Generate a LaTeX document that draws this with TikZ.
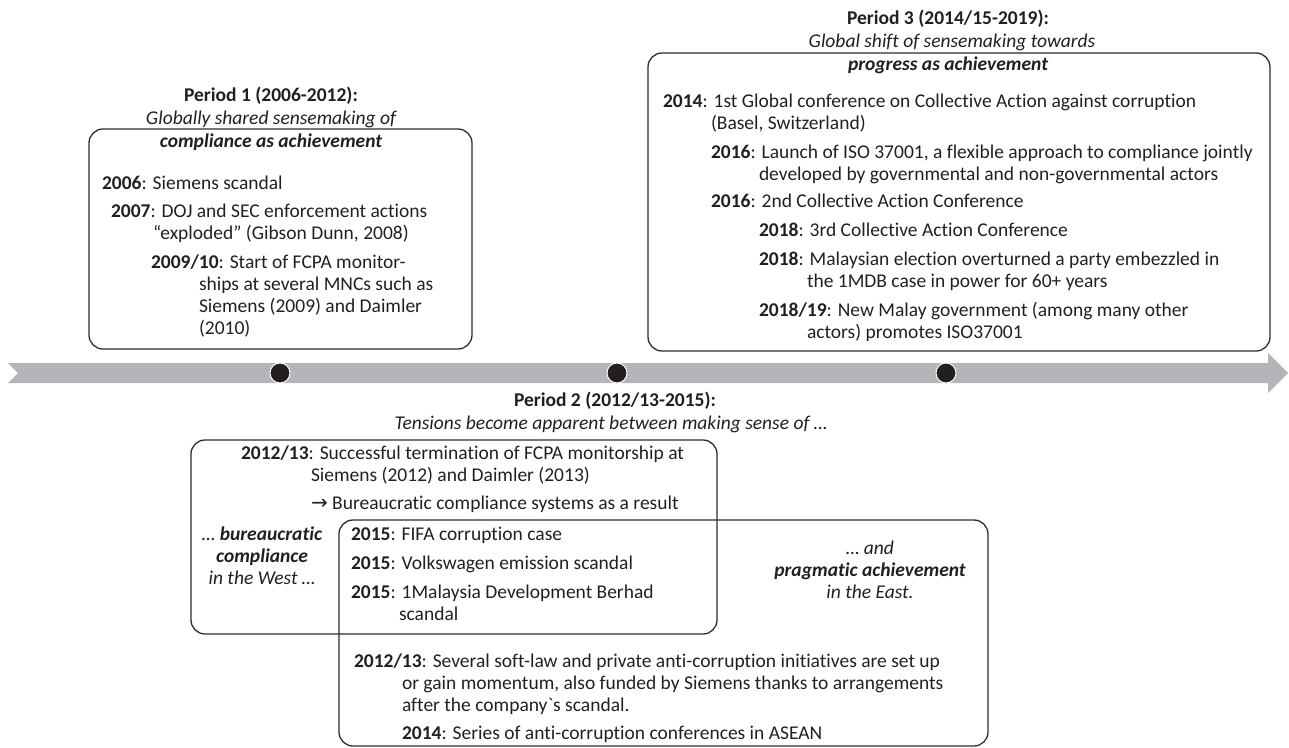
\documentclass[tikz,border=0pt]{standalone}
\usepackage{fontspec}
\setmainfont{Carlito}[Ligatures={TeX,CommonOff}]
\newfontfamily\dejavu{DejaVu Sans}
\definecolor{ink}{RGB}{35,31,32}
\definecolor{band}{RGB}{180,181,184}
\definecolor{frame}{RGB}{45,45,45}
\newcommand\fs{\fontsize{19.5}{22}\selectfont}
\newcommand\yr[1]{\textbf{#1}:}
\newcommand\grv{{\addfontfeatures{Ligatures=TeXOff}`}}
\begin{document}
\begin{tikzpicture}[x=1pt,y=-1pt,
  txt/.style={anchor=base west, inner sep=0pt, outer sep=0pt, text=ink, font=\fs},
  ctr/.style={txt, anchor=base},
  box/.style={draw=frame, line width=1.3pt, rounded corners=14pt},
  dot/.style={circle, fill=ink, draw=white, line width=1pt, minimum size=20pt, inner sep=0pt}]
\useasboundingbox (0,0) rectangle (1289,747);

% timeline arrow
\fill[band] (8,363) -- (1268,363) -- (1268,353) -- (1288,373) -- (1268,393) -- (1268,383) -- (8,383) -- (18,373) -- cycle;
\node[dot] (d1) at (280,373) {};
\node[dot] (d2) at (617,373) {};
\node[dot] (d3) at (946,373) {};

% boxes
\draw[box] (89,129) rectangle (472,349);
\draw[box] (648,53) rectangle (1270,351);
\draw[box] (191,440) rectangle (717,634);
\draw[box] (339,520) rectangle (988,746);

% Period 1
\node[ctr, font=\fs\bfseries] (p1t) at (271,101) {Period 1 (2006-2012):};
\node[ctr, font=\fs\itshape] (p1s) at (271,124) {Globally shared sensemaking of};
\node[ctr, font=\fs\bfseries\itshape] (p1c) at (271,147) {compliance as achievement};
\node[txt] (p1e1) at (102,189) {\yr{2006} Siemens scandal};
\node[txt] (p1e2) at (111,217) {\begin{tabular}[t]{@{}l@{}}\yr{2007} DOJ and SEC enforcement actions\\\hspace*{42pt}“exploded” (Gibson Dunn, 2008)\end{tabular}};
\node[txt] (p1e3) at (151,268) {\begin{tabular}[t]{@{}l@{}}\yr{2009/10} Start of FCPA monitor-\\\hspace*{48pt}ships at several MNCs such as\\\hspace*{48pt}Siemens (2009) and Daimler\\\hspace*{48pt}(2010)\end{tabular}};

% Period 3
\node[ctr, font=\fs\bfseries] (p3t) at (948,24) {Period 3 (2014/15-2019):};
\node[ctr, font=\fs\itshape] (p3s) at (952,47) {Global shift of sensemaking towards};
\node[ctr, font=\fs\bfseries\itshape] (p3c) at (948,70) {progress as achievement};
\node[txt] (p3e1) at (663,107) {\begin{tabular}[t]{@{}l@{}}\yr{2014} 1st Global conference on Collective Action against corruption\\\hspace*{48pt}(Basel, Switzerland)\end{tabular}};
\node[txt] (p3e2) at (711,158) {\begin{tabular}[t]{@{}l@{}}\yr{2016} Launch of ISO 37001, a flexible approach to compliance jointly\\\hspace*{48pt}developed by governmental and non-governmental actors\end{tabular}};
\node[txt] (p3e3) at (711,207) {\yr{2016} 2nd Collective Action Conference};
\node[txt] (p3e4) at (759,236) {\yr{2018} 3rd Collective Action Conference};
\node[txt] (p3e5) at (759,265) {\begin{tabular}[t]{@{}l@{}}\yr{2018} Malaysian election overturned a party embezzled in\\\hspace*{48pt}the 1MDB case in power for 60+ years\end{tabular}};
\node[txt] (p3e6) at (759,316) {\begin{tabular}[t]{@{}l@{}}\yr{2018/19} New Malay government (among many other\\\hspace*{48pt}actors) promotes ISO37001\end{tabular}};

% Period 2
\node[ctr, font=\fs\bfseries] (p2t) at (615,406) {Period 2 (2012/13-2015):};
\node[ctr, font=\fs\itshape] (p2s) at (611,429) {Tensions become apparent between making sense of …};
\node[txt] (p2e1) at (241,459) {\begin{tabular}[t]{@{}l@{}}\yr{2012/13} Successful termination of FCPA monitorship at\\\hspace*{70pt}Siemens (2012) and Daimler (2013)\end{tabular}};
\node[txt] (p2e2) at (311,509) {{\dejavu\fontsize{20}{22}\selectfont →} Bureaucratic compliance systems as a result};
\node[ctr, font=\fs\itshape] (w1) at (262,540) {… \textbf{bureaucratic}};
\node[ctr, font=\fs\bfseries\itshape] (w2) at (262,562) {compliance};
\node[ctr, font=\fs\itshape] (w3) at (262,584) {in the West …};
\node[txt] (p2e3) at (351,540) {\yr{2015} FIFA corruption case};
\node[txt] (p2e4) at (351,569) {\yr{2015} Volkswagen emission scandal};
\node[txt] (p2e5) at (351,598) {\begin{tabular}[t]{@{}l@{}}\yr{2015} 1Malaysia Development Berhad\\\hspace*{48pt}scandal\end{tabular}};
\node[ctr, font=\fs\itshape] (e1) at (870,554) {… and};
\node[ctr, font=\fs\bfseries\itshape] (e2) at (870,576) {pragmatic achievement};
\node[ctr, font=\fs\itshape] (e3) at (870,598) {in the East.};
\node[txt] (p2e6) at (354,667) {\begin{tabular}[t]{@{}l@{}}\yr{2012/13} Several soft-law and private anti-corruption initiatives are set up\\\hspace*{48pt}or gain momentum, also funded by Siemens thanks to arrangements\\\hspace*{48pt}after the company\grv s scandal.\end{tabular}};
\node[txt] (p2e7) at (402,739) {\yr{2014} Series of anti-corruption conferences in ASEAN};
\end{tikzpicture}
\end{document}
